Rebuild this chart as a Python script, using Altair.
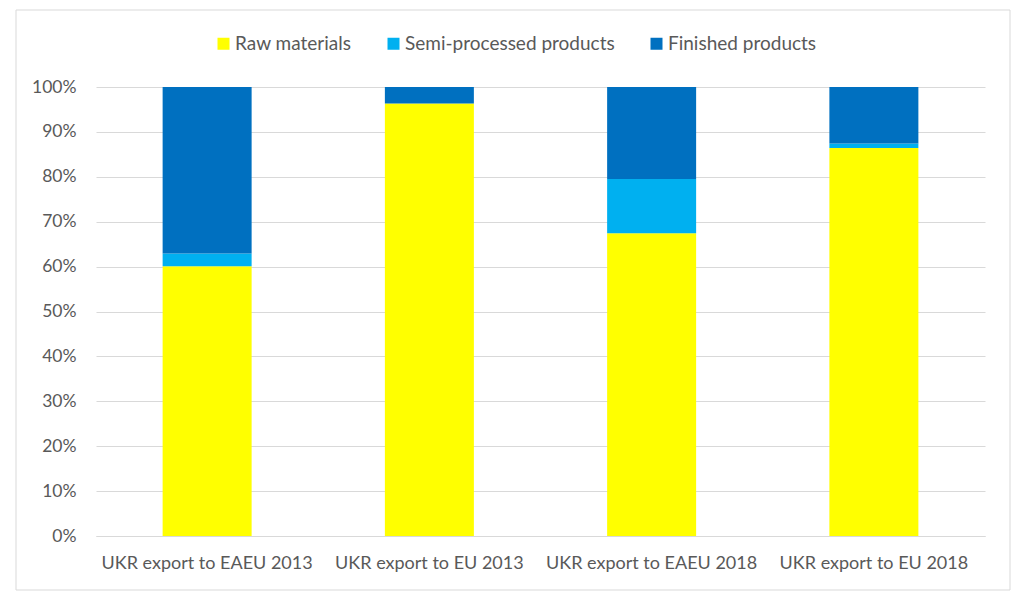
import altair as alt
import pandas as pd

categories = ["UKR export to EAEU 2013", "UKR export to EU 2013",
              "UKR export to EAEU 2018", "UKR export to EU 2018"]
series = ["Raw materials", "Semi-processed products", "Finished products"]
raw = [60.1, 96.3, 67.4, 86.4]
semi = [2.8, 0.0, 12.1, 1.0]
finished = [37.1, 3.7, 20.5, 12.6]
colors = ["#FFFF00", "#00B0F0", "#0070C0"]

rows = []
for i, c in enumerate(categories):
    for j, (s, vals) in enumerate(zip(series, [raw, semi, finished])):
        rows.append({"cat": c, "series": s, "value": vals[i] / 100.0, "ord": j})
df = pd.DataFrame(rows)

W, H = 889, 449
FONT = "Lato"

bars = alt.Chart(df).mark_bar(size=89).encode(
    x=alt.X("cat:N", sort=categories, title=None,
            scale=alt.Scale(paddingInner=0.6, paddingOuter=0.3),
            axis=alt.Axis(labelAngle=0, labelFontSize=18, labelColor="#595959",
                          labelFont=FONT, ticks=False, domainColor="#D9D9D9",
                          labelPadding=18, grid=False, labelLimit=0)),
    y=alt.Y("value:Q", stack="zero", title=None,
            scale=alt.Scale(domain=[0, 1], nice=False),
            axis=alt.Axis(format=".0%", values=[i / 10 for i in range(11)],
                          labelFontSize=17.5, labelColor="#595959", labelFont=FONT,
                          ticks=False, domain=False, gridColor="#D9D9D9",
                          labelPadding=20)),
    color=alt.Color("series:N", sort=series,
                    scale=alt.Scale(domain=series, range=colors),
                    legend=alt.Legend(title=None, orient="none", direction="horizontal",
                                      legendX=118, legendY=-53, symbolType="square",
                                      symbolSize=144, symbolStrokeWidth=0,
                                      labelFontSize=19, labelColor="#595959",
                                      labelFont=FONT, columnPadding=32,
                                      labelOffset=2, labelLimit=0)),
    order=alt.Order("ord:Q", sort="ascending"),
)

border = alt.Chart(pd.DataFrame({"a": [0]})).mark_rect(
    fill=None, stroke="#D9D9D9", strokeWidth=1
).encode(
    x=alt.value(-80), x2=alt.value(W + 25),
    y=alt.value(-77), y2=alt.value(H + 54),
)

chart = alt.layer(bars, border).properties(
    width=W, height=H,
    autosize=alt.AutoSizeParams(type="none"),
    padding={"left": 88, "top": 79, "right": 30, "bottom": 60},
).configure_view(stroke=None)

chart.save("out.html", embed_options={"renderer": "svg", "actions": False})
